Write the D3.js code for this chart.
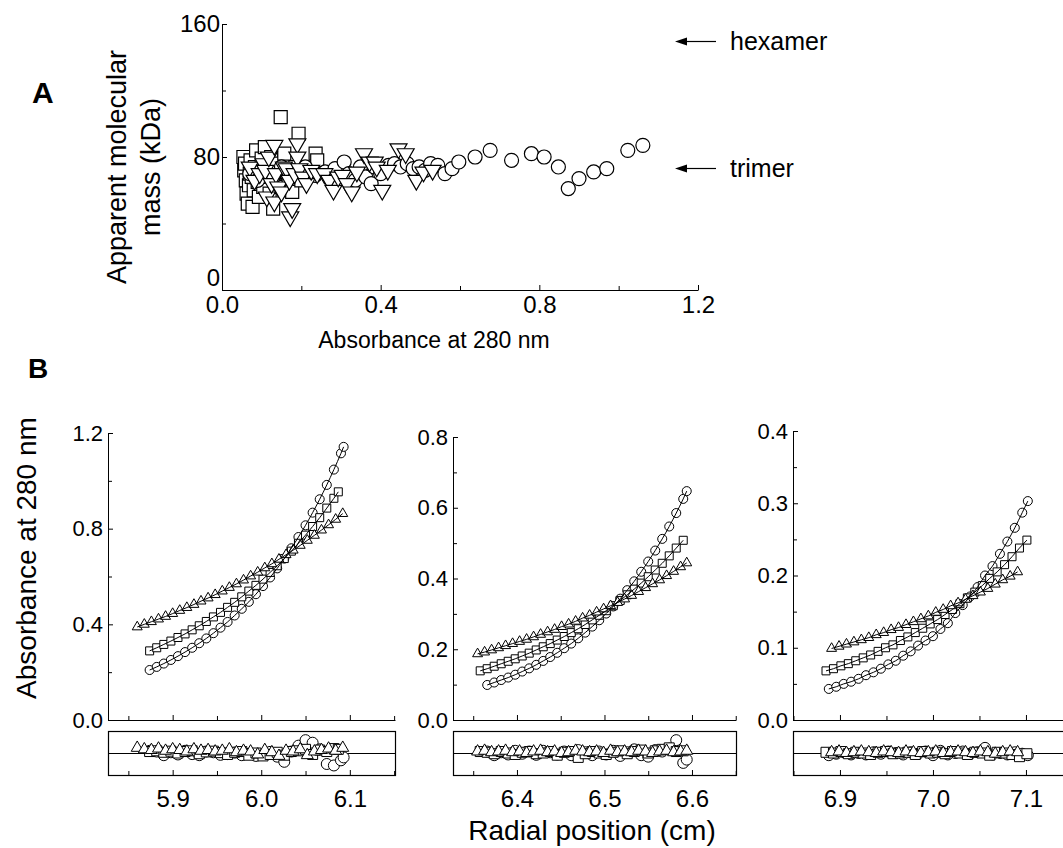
<!DOCTYPE html>
<html>
<head>
<meta charset="utf-8">
<script src="https://cdn.jsdelivr.net/npm/d3@7"></script>
<style>
  body { margin: 0; background: #fff; }
  svg { display: block; }
  text { font-family: "Liberation Sans", Arial, Helvetica, sans-serif; fill: #000; }
</style>
</head>
<body>
<div id="chart"></div>
<script>
// ---- Panel A: apparent mass vs absorbance, [absorbance, kDa]
const aSquares = [[0.054,80],[0.056,72],[0.058,76],[0.060,66],[0.062,58],[0.065,52],[0.068,63],[0.070,70],[0.072,78],[0.075,68],[0.077,50],[0.080,60],[0.083,74],[0.086,84],[0.090,65],[0.093,56],[0.097,71],[0.100,79],[0.104,62],[0.108,86],[0.112,68],[0.116,74],[0.120,58],[0.124,80],[0.129,49],[0.133,66],[0.138,76],[0.143,62],[0.148,104],[0.152,71],[0.157,82],[0.162,60],[0.168,68],[0.177,59],[0.185,74],[0.193,94],[0.200,66],[0.212,72],[0.236,82],[0.240,78]];
const aTriangles = [[0.070,74],[0.082,66],[0.095,70],[0.105,76],[0.109,72],[0.113,56],[0.118,80],[0.125,64],[0.132,87],[0.132,53],[0.136,70],[0.142,62],[0.150,59],[0.156,74],[0.163,73],[0.170,66],[0.172,44],[0.177,49],[0.183,70],[0.190,88],[0.190,80],[0.195,73],[0.205,68],[0.213,64],[0.225,72],[0.240,70],[0.258,70],[0.270,66],[0.281,60],[0.293,68],[0.304,69],[0.315,64],[0.327,59],[0.340,71],[0.358,82],[0.372,77],[0.385,77],[0.390,74],[0.404,60],[0.418,72],[0.445,85],[0.463,82],[0.490,66],[0.508,71],[0.531,72]];
const aCircles = [[0.070,70],[0.090,66],[0.110,72],[0.130,68],[0.150,74],[0.170,70],[0.190,72],[0.210,74],[0.235,69],[0.260,71],[0.285,73],[0.308,77],[0.320,70],[0.336,66],[0.349,74],[0.362,68],[0.376,64],[0.384,74],[0.400,70],[0.420,75],[0.435,76],[0.450,74],[0.467,76],[0.482,73],[0.497,74],[0.512,72],[0.526,76],[0.544,75],[0.562,70],[0.580,73],[0.597,77],[0.638,80],[0.676,84],[0.730,78],[0.780,82],[0.812,80],[0.848,74],[0.873,61],[0.900,67],[0.937,71],[0.970,73],[1.023,84],[1.061,87]];
const aTicksX = [0, 0.4, 0.8, 1.2];
const aMinorX = [0.2, 0.6, 1.0];
const aTicksY = [0, 80, 160];
const aMinorY = [40, 120];
const aNotes = [{ label: "hexamer", mass: 150 }, { label: "trimer", mass: 73.5 }];

// ---- Panel B: radial scans, [radius cm, absorbance, residual]
const p1Circles = [[5.874,0.209,0.006],[5.882,0.222,0.004],[5.890,0.236,-0.006],[5.898,0.251,0.002],[5.906,0.267,-0.004],[5.914,0.284,0.006],[5.922,0.302,-0.003],[5.930,0.321,-0.006],[5.938,0.341,0.004],[5.946,0.363,0.002],[5.954,0.386,-0.005],[5.962,0.410,-0.003],[5.970,0.437,0.001],[5.978,0.465,-0.006],[5.986,0.494,-0.002],[5.994,0.526,-0.008],[6.002,0.560,-0.004],[6.010,0.596,0.003],[6.018,0.634,-0.010],[6.026,0.675,-0.024],[6.034,0.718,0.004],[6.042,0.765,0.020],[6.050,0.814,0.035],[6.058,0.867,0.028],[6.066,0.923,0.010],[6.074,0.983,-0.030],[6.082,1.047,-0.034],[6.090,1.115,-0.020],[6.093,1.142,-0.012]];
const p1Squares = [[5.874,0.289,0.004],[5.882,0.302,0.006],[5.890,0.316,0.002],[5.898,0.330,0.005],[5.906,0.345,0.000],[5.914,0.360,0.004],[5.922,0.377,0.006],[5.930,0.394,-0.002],[5.938,0.412,0.003],[5.946,0.431,0.005],[5.954,0.450,0.001],[5.962,0.471,-0.004],[5.970,0.492,0.002],[5.978,0.515,0.004],[5.986,0.539,-0.006],[5.994,0.563,0.000],[6.002,0.589,-0.008],[6.010,0.617,-0.004],[6.018,0.645,0.002],[6.026,0.675,-0.006],[6.034,0.706,0.004],[6.042,0.739,0.006],[6.050,0.773,0.010],[6.058,0.809,-0.004],[6.066,0.846,0.008],[6.074,0.886,0.004],[6.082,0.927,0.012],[6.087,0.954,0.010]];
const p1Triangles = [[5.860,0.389,0.014],[5.868,0.400,0.010],[5.876,0.411,0.008],[5.884,0.422,0.012],[5.892,0.433,0.006],[5.900,0.445,0.010],[5.908,0.458,0.008],[5.916,0.470,0.004],[5.924,0.483,0.010],[5.932,0.497,0.006],[5.940,0.510,0.008],[5.948,0.524,0.004],[5.956,0.539,0.006],[5.964,0.554,0.010],[5.972,0.569,0.002],[5.980,0.585,0.006],[5.988,0.602,0.004],[5.996,0.618,-0.004],[6.004,0.636,0.008],[6.012,0.653,0.002],[6.020,0.672,-0.008],[6.028,0.691,0.006],[6.036,0.710,0.004],[6.044,0.730,0.010],[6.052,0.751,-0.006],[6.060,0.772,0.004],[6.068,0.794,0.008],[6.076,0.816,0.012],[6.084,0.839,0.006],[6.092,0.863,0.014]];
const p2Circles = [[6.366,0.099,0.004],[6.374,0.106,-0.006],[6.382,0.113,0.002],[6.390,0.120,-0.004],[6.398,0.128,0.006],[6.406,0.137,-0.002],[6.414,0.146,0.004],[6.422,0.156,-0.005],[6.430,0.167,0.006],[6.438,0.178,0.002],[6.446,0.190,-0.004],[6.454,0.203,0.004],[6.462,0.216,-0.006],[6.470,0.231,0.008],[6.478,0.247,0.002],[6.486,0.264,-0.006],[6.494,0.282,0.004],[6.502,0.301,-0.004],[6.510,0.321,0.006],[6.518,0.343,-0.008],[6.526,0.367,0.002],[6.534,0.392,0.010],[6.542,0.419,-0.006],[6.550,0.448,-0.010],[6.558,0.479,0.008],[6.566,0.512,0.004],[6.574,0.547,0.012],[6.582,0.585,0.035],[6.590,0.625,-0.027],[6.594,0.647,-0.018]];
const p2Squares = [[6.358,0.139,0.004],[6.366,0.145,0.002],[6.374,0.152,-0.002],[6.382,0.159,0.004],[6.390,0.166,0.000],[6.398,0.173,-0.004],[6.406,0.181,0.002],[6.414,0.189,0.004],[6.422,0.198,-0.002],[6.430,0.207,0.000],[6.438,0.216,0.004],[6.446,0.226,-0.006],[6.454,0.236,0.002],[6.462,0.247,0.004],[6.470,0.258,-0.012],[6.478,0.270,-0.002],[6.486,0.283,0.004],[6.494,0.296,0.000],[6.502,0.309,-0.004],[6.510,0.323,0.002],[6.518,0.338,0.006],[6.526,0.354,-0.002],[6.534,0.370,0.004],[6.542,0.387,0.008],[6.550,0.405,0.000],[6.558,0.424,0.006],[6.566,0.443,0.010],[6.574,0.464,0.014],[6.582,0.486,0.004],[6.590,0.508,0.006]];
const p2Triangles = [[6.355,0.187,0.004],[6.363,0.192,0.006],[6.371,0.198,0.002],[6.379,0.204,0.004],[6.387,0.210,0.006],[6.395,0.216,0.002],[6.403,0.222,0.004],[6.411,0.228,0.000],[6.419,0.235,0.004],[6.427,0.242,0.006],[6.435,0.249,0.002],[6.443,0.256,0.004],[6.451,0.264,0.000],[6.459,0.271,0.002],[6.467,0.279,0.006],[6.475,0.288,0.004],[6.483,0.296,0.002],[6.491,0.305,0.004],[6.499,0.314,0.000],[6.507,0.323,0.006],[6.515,0.332,0.002],[6.523,0.342,0.004],[6.531,0.352,0.002],[6.539,0.363,0.006],[6.547,0.374,0.004],[6.555,0.385,0.000],[6.563,0.396,0.004],[6.571,0.408,0.006],[6.579,0.420,0.002],[6.587,0.433,0.004],[6.594,0.444,0.006]];
const p3Circles = [[6.888,0.043,-0.006],[6.896,0.046,-0.002],[6.904,0.050,0.002],[6.912,0.053,-0.004],[6.920,0.057,0.000],[6.928,0.062,-0.004],[6.936,0.066,0.002],[6.944,0.071,-0.002],[6.952,0.077,0.004],[6.960,0.082,0.000],[6.968,0.089,-0.004],[6.976,0.095,0.002],[6.984,0.103,-0.002],[6.992,0.110,0.004],[7.000,0.116,-0.006],[7.008,0.126,0.006],[7.016,0.134,-0.004],[7.024,0.148,0.000],[7.032,0.159,0.004],[7.040,0.171,-0.002],[7.048,0.184,0.002],[7.056,0.200,0.014],[7.064,0.213,-0.004],[7.072,0.230,0.000],[7.080,0.247,-0.004],[7.088,0.266,0.002],[7.096,0.287,-0.002],[7.102,0.303,-0.006]];
const p3Squares = [[6.885,0.068,0.002],[6.893,0.071,0.000],[6.901,0.075,0.004],[6.909,0.078,-0.002],[6.917,0.082,0.002],[6.925,0.086,0.000],[6.933,0.090,-0.004],[6.941,0.095,0.002],[6.949,0.100,0.004],[6.957,0.104,-0.002],[6.965,0.110,0.000],[6.973,0.115,0.002],[6.981,0.121,-0.004],[6.989,0.127,0.004],[6.997,0.133,0.000],[7.005,0.139,0.002],[7.013,0.146,-0.002],[7.021,0.153,0.004],[7.029,0.161,0.000],[7.037,0.169,-0.004],[7.045,0.177,0.002],[7.053,0.186,0.000],[7.061,0.196,-0.006],[7.069,0.205,0.002],[7.077,0.215,0.000],[7.085,0.226,-0.004],[7.093,0.238,-0.010],[7.101,0.249,-0.002]];
const p3Triangles = [[6.891,0.099,0.002],[6.899,0.102,0.004],[6.907,0.105,0.000],[6.915,0.108,0.002],[6.923,0.111,0.004],[6.931,0.114,0.002],[6.939,0.118,0.000],[6.947,0.121,0.004],[6.955,0.125,0.002],[6.963,0.128,0.000],[6.971,0.132,0.004],[6.979,0.136,0.002],[6.987,0.140,0.000],[6.995,0.144,0.002],[7.003,0.149,0.004],[7.011,0.153,0.000],[7.019,0.158,0.002],[7.027,0.162,0.004],[7.035,0.167,0.002],[7.043,0.172,0.000],[7.051,0.177,0.004],[7.059,0.182,0.002],[7.067,0.188,-0.002],[7.075,0.194,0.002],[7.083,0.199,0.004],[7.091,0.205,0.002]];

const p1TicksY = [0, 0.4, 0.8, 1.2], p1MinorY = [0.2, 0.6, 1.0];
const p2TicksY = [0, 0.2, 0.4, 0.6, 0.8], p2MinorY = [0.1, 0.3, 0.5, 0.7];
const p3TicksY = [0, 0.1, 0.2, 0.3, 0.4], p3MinorY = [0.05, 0.15, 0.25, 0.35];
const p1TicksX = [5.9, 6.0, 6.1], p1MinorX = [5.85, 5.95, 6.05, 6.15];
const p2TicksX = [6.4, 6.5, 6.6], p2MinorX = [6.35, 6.45, 6.55, 6.65];
const p3TicksX = [6.9, 7.0, 7.1], p3MinorX = [6.85, 6.95, 7.05, 7.15];

const W = 1063, H = 848;
const FONT = '"Liberation Sans", Arial, Helvetica, sans-serif';
const svg = d3.select("#chart").append("svg").attr("width", W).attr("height", H);

function sym(type, size) {
  const t = type === "circle" ? d3.symbolCircle : type === "square" ? d3.symbolSquare : d3.symbolTriangle;
  return d3.symbol().type(t).size(size)();
}

function styleAxis(g, fontSize) {
  g.attr("font-family", FONT).attr("font-size", fontSize);
  g.selectAll("path.domain").attr("stroke", "#000");
  g.selectAll(".tick line").attr("stroke", "#000");
  g.selectAll(".tick text").attr("fill", "#000");
}

function drawMarks(g, data, x, y, type, size, sw) {
  g.append("g").selectAll("path").data(data).join("path")
    .attr("d", sym(type, size))
    .attr("transform", d => `translate(${x(d[0])},${y(d[1])})` + (type === "down" ? " rotate(180)" : ""))
    .attr("fill", "#fff").attr("stroke", "#000").attr("stroke-width", sw || 1);
}

// ---------- Panel A ----------
const ax = d3.scaleLinear().domain([0, 1.2]).range([222, 698]);
const ay = d3.scaleLinear().domain([0, 160]).range([290, 24]);
const gA = svg.append("g");

gA.append("g").attr("transform", `translate(0,${ay(0)})`)
  .call(d3.axisBottom(ax).tickValues(aTicksX).tickFormat(d3.format(".1f")).tickSizeInner(-5).tickSizeOuter(0).tickPadding(6))
  .call(g => styleAxis(g, 24));
gA.append("g").attr("transform", `translate(0,${ay(0)})`)
  .call(d3.axisBottom(ax).tickValues(aMinorX).tickFormat("").tickSizeInner(-4).tickSizeOuter(0))
  .call(g => g.select(".domain").remove());
gA.append("g").attr("transform", `translate(${ax(0)},0)`)
  .call(d3.axisLeft(ay).tickValues(aTicksY).tickSizeInner(-5).tickSizeOuter(0).tickPadding(2))
  .call(g => styleAxis(g, 24))
  .call(g => g.selectAll(".tick text").filter(d => d === 0).attr("dy", "-0.2em"));
gA.append("g").attr("transform", `translate(${ax(0)},0)`)
  .call(d3.axisLeft(ay).tickValues(aMinorY).tickFormat("").tickSizeInner(-4).tickSizeOuter(0))
  .call(g => g.select(".domain").remove());

drawMarks(gA, aSquares, ax, ay, "square", 169, 1.2);
drawMarks(gA, aCircles, ax, ay, "circle", 154, 1.2);
drawMarks(gA, aTriangles, ax, ay, "down", 125, 1.2);

// arrows to oligomer masses
aNotes.forEach(n => {
  const yy = Math.round(ay(n.mass)) + 0.5;
  gA.append("line").attr("x1", 684).attr("x2", 716).attr("y1", yy).attr("y2", yy).attr("stroke", "#000").attr("stroke-width", 1.2);
  gA.append("path").attr("d", `M675,${yy}L687,${yy - 4}L687,${yy + 4}Z`).attr("fill", "#000");
  gA.append("text").attr("x", 730).attr("y", yy + 8).attr("font-size", 25).text(n.label);
});

gA.append("text").attr("x", 32).attr("y", 103).attr("font-size", 30).attr("font-weight", "bold").text("A");
gA.append("text").attr("transform", "translate(126,167) rotate(-90)").attr("text-anchor", "middle").attr("font-size", 27).text("Apparent molecular");
gA.append("text").attr("transform", "translate(160,167) rotate(-90)").attr("text-anchor", "middle").attr("font-size", 27).text("mass (kDa)");
gA.append("text").attr("x", 434).attr("y", 348).attr("text-anchor", "middle").attr("font-size", 23).text("Absorbance at 280 nm");

// ---------- Panel B ----------
const panels = [
  { xr: [108, 395], xd: [5.827, 6.151], yTop: 433, yMax: 1.2, ticksY: p1TicksY, minorY: p1MinorY, ticksX: p1TicksX, minorX: p1MinorX, series: [p1Circles, p1Squares, p1Triangles] },
  { xr: [453, 736], xd: [6.3269, 6.6503], yTop: 437, yMax: 0.8, ticksY: p2TicksY, minorY: p2MinorY, ticksX: p2TicksX, minorX: p2MinorX, series: [p2Circles, p2Squares, p2Triangles] },
  { xr: [793, 1080], xd: [6.8495, 7.1581], yTop: 431, yMax: 0.4, ticksY: p3TicksY, minorY: p3MinorY, ticksX: p3TicksX, minorX: p3MinorX, series: [p3Circles, p3Squares, p3Triangles] }
];
const types = ["circle", "square", "up"];
const mainSize = { circle: 64, square: 64, up: 43 };
const resSize = { circle: 95, square: 100, up: 62 };
const yBase = 720, resTop = 731, resBot = 775;

panels.forEach(p => {
  const g = svg.append("g");
  const x = d3.scaleLinear().domain(p.xd).range(p.xr);
  const y = d3.scaleLinear().domain([0, p.yMax]).range([yBase, p.yTop]);
  const yr = d3.scaleLinear().domain([-0.06, 0.06]).range([resBot, resTop]);

  // main axes
  g.append("g").attr("transform", `translate(0,${yBase})`)
    .call(d3.axisBottom(x).tickValues(p.ticksX).tickFormat("").tickSizeInner(-5).tickSizeOuter(0))
    .call(a => styleAxis(a, 20));
  g.append("g").attr("transform", `translate(0,${yBase})`)
    .call(d3.axisBottom(x).tickValues(p.minorX).tickFormat("").tickSizeInner(-4).tickSizeOuter(0))
    .call(a => a.select(".domain").remove());
  g.append("g").attr("transform", `translate(${p.xr[0]},0)`)
    .call(d3.axisLeft(y).tickValues(p.ticksY).tickFormat(d3.format(".1f")).tickSizeInner(-5).tickSizeOuter(0).tickPadding(5))
    .call(a => styleAxis(a, 22));
  g.append("g").attr("transform", `translate(${p.xr[0]},0)`)
    .call(d3.axisLeft(y).tickValues(p.minorY).tickFormat("").tickSizeInner(-4).tickSizeOuter(0))
    .call(a => a.select(".domain").remove());

  p.series.forEach((s, i) => drawMarks(g, s, x, y, types[i], mainSize[types[i]]));
  p.series.forEach(s => {
    g.append("path").datum(s)
      .attr("d", d3.line().x(d => x(d[0])).y(d => y(d[1])).curve(d3.curveMonotoneX))
      .attr("fill", "none").attr("stroke", "#000").attr("stroke-width", 1);
  });

  // residual box
  g.append("rect").attr("x", p.xr[0] + 0.5).attr("y", resTop + 0.5)
    .attr("width", p.xr[1] - p.xr[0]).attr("height", resBot - resTop)
    .attr("fill", "none").attr("stroke", "#000").attr("stroke-width", 1.2);
  g.append("line").attr("x1", p.xr[0]).attr("x2", p.xr[1])
    .attr("y1", Math.round(yr(0)) + 0.5).attr("y2", Math.round(yr(0)) + 0.5)
    .attr("stroke", "#000").attr("stroke-width", 1);
  p.series.forEach((s, i) => drawMarks(g, s.map(d => [d[0], d[2]]), x, yr, types[i], resSize[types[i]]));

  g.append("g").attr("transform", `translate(0,${resBot})`)
    .call(d3.axisBottom(x).tickValues(p.ticksX).tickFormat(d3.format(".1f")).tickSizeInner(-5).tickSizeOuter(0).tickPadding(15))
    .call(a => styleAxis(a, 24))
    .call(a => a.select(".domain").remove());
  g.append("g").attr("transform", `translate(0,${resBot})`)
    .call(d3.axisBottom(x).tickValues(p.minorX).tickFormat("").tickSizeInner(-4).tickSizeOuter(0))
    .call(a => a.select(".domain").remove());
});

svg.append("text").attr("x", 28).attr("y", 378).attr("font-size", 28).attr("font-weight", "bold").text("B");
svg.append("text").attr("transform", "translate(36,558) rotate(-90)").attr("text-anchor", "middle").attr("font-size", 28).text("Absorbance at 280 nm");
svg.append("text").attr("x", 592).attr("y", 840).attr("text-anchor", "middle").attr("font-size", 28).text("Radial position (cm)");
</script>
</body>
</html>
